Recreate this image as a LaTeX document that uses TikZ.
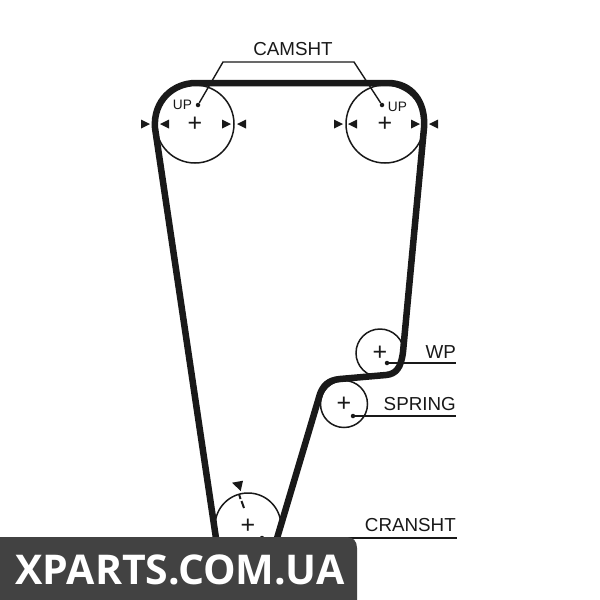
\documentclass[tikz,border=0pt]{standalone}
\usepackage{fontspec}
\setmainfont{Liberation Sans}
\newfontfamily\bannerfont{Open Sans}
\usetikzlibrary{
  arrows.meta,
  backgrounds,
}
\definecolor{inkgray}{RGB}{25, 25, 25}
\definecolor{bannergray}{RGB}{66, 66, 66}
\tikzstyle{belt} = [
  line width=6.5pt,
  inkgray,
  line join=round,
]
\tikzstyle{pulley} = [
  circle,
  draw=inkgray,
  line width=1.5pt,
  inner sep=0pt,
  font=\fontsize{25}{25}\selectfont,
  text=inkgray,
]
\tikzstyle{leader} = [
  line width=1.4pt,
  inkgray,
]
\tikzstyle{tag} = [
  inner sep=0pt,
  text=inkgray,
  font=\fontsize{18.8}{20}\selectfont,
]
\tikzstyle{dot} = [
  circle,
  fill=inkgray,
  inner sep=0pt,
  minimum size=4.5pt,
]

\begin{document}
\begin{tikzpicture}[x=1pt, y=-1pt]

        \useasboundingbox (0,0) rectangle (600,600);
        \fill [white] (0,0) rectangle (600,600);

        \node [pulley, minimum size=78pt] (camleft) at (195,124) {+};
        \node [pulley, minimum size=78pt] (camright) at (385,124) {+};
        \node [pulley, minimum size=48pt] (wp) at (380,353) {+};
        \node [pulley, minimum size=47pt] (spring) at (344,404) {+};
        \node [pulley, minimum size=66pt] (cranksht) at (248,526) {+};

        \draw [belt] (217,545) -- (155,128)
              .. controls (153,101) and (173,83) .. (196,83)
              -- (388,83)
              .. controls (411,83) and (426,101) .. (424,128)
              -- (403,352)
              .. controls (401,368) and (396,374) .. (386,375)
              -- (340,379)
              .. controls (328,380) and (323,386) .. (320,394)
              -- (275,545);

        \foreach \x/\d in {150/1,160/-1,231/1,237/-1,343/1,348/-1,420/1,429/-1} {
          \fill [inkgray] (\x,124) -- ++(-\d*9,-4.5) -- ++(0,9) -- cycle;
        }

        \node [dot] (upleft) at (198,105) {};
        \node [dot] (upright) at (382,105) {};
        \node [dot] (wpdot) at (387,363) {};
        \node [dot] (springdot) at (353,416) {};
        \node [dot] (crankdot) at (262,538) {};

        \coordinate (camtopleft) at (223,62);
        \coordinate (camtopright) at (354,62);
        \coordinate (wpend) at (456,363);
        \coordinate (springend) at (456,416);
        \coordinate (crankend) at (457,538);

        \draw [leader] (upleft) -- (camtopleft) -- (camtopright) -- (upright);
        \draw [leader] (wpdot) -- (wpend);
        \draw [leader] (springdot) -- (springend);
        \draw [leader] (crankdot) -- (crankend);

        \node [tag] (camlabel) at (293,49) {CAMSHT};
        \node [tag, anchor=east] (wplabel) at (456,352) {WP};
        \node [tag, anchor=east] (springlabel) at (456,404) {SPRING};
        \node [tag, anchor=east] (cranklabel) at (456,525) {CRANSHT};
        \node [tag, font=\fontsize{13.7}{14}\selectfont] (upleftlabel) at (182.5,105) {UP};
        \node [tag, font=\fontsize{13.7}{14}\selectfont] (uprightlabel) at (397.5,107) {UP};

        \fill [inkgray] (232,482.7) -- (243,480.7) -- (240.7,491) -- cycle;
        \draw [leader, line width=2pt] (239,494) -- (240.5,499);
        \draw [leader, line width=2pt] (241.5,501) -- (244,508);

        \fill [bannergray] (0,537) -- (347,537)
              .. controls (353,537) and (357,541) .. (357,548)
              -- (357,600) -- (0,600) -- cycle;
        \node [text=white, inner sep=0pt, font=\bannerfont\bfseries\fontsize{41}{42}\selectfont] (brand) at (180,570) {XPARTS.COM.UA};

\end{tikzpicture}
\end{document}
